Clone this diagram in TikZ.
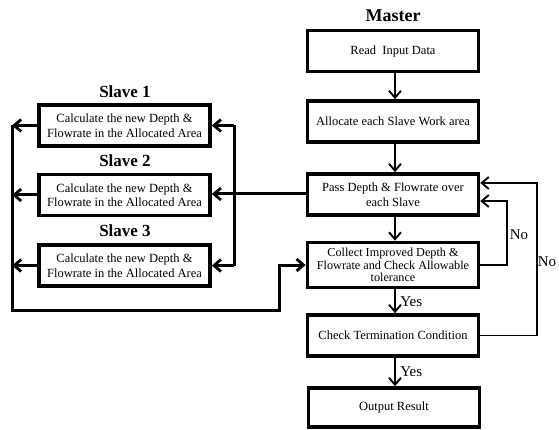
\documentclass[tikz,border=0pt]{standalone}
\usepackage{fontspec}
\setmainfont{Liberation Serif}
\usetikzlibrary{arrows.meta}
\begin{document}
\begin{tikzpicture}[x=1pt,y=-1pt,
  box/.style={draw,line width=3.6pt,minimum width=171pt,minimum height=41pt,align=center,inner sep=1pt,font=\fontsize{12.5}{14.5}\selectfont},
  thin/.style={line width=1.9pt,-{Straight Barb[length=7pt,width=12pt,line width=1.9pt]}},
  thk/.style={line width=3pt,-{Straight Barb[length=7pt,width=12pt,line width=2.8pt]}},
  title/.style={font=\fontsize{18}{20}\selectfont\bfseries},
  stitle/.style={font=\fontsize{17}{19}\selectfont\bfseries},
  lab/.style={font=\fontsize{15}{17}\selectfont}]
\useasboundingbox (0,0) rectangle (559,430);
% master column
\node[title] (mt) at (393,16) {Master};
\node[box] (read) at (393,51) {Read\ \ Input Data};
\node[box] (alloc) at (393,121.5) {Allocate each Slave Work area};
\node[box] (pass) at (393,194.5) {Pass Depth \& Flowrate over\\each Slave};
\node[box,minimum height=45pt,inner sep=0pt,font=\fontsize{12.2}{12.8}\selectfont] (coll) at (393,265) {Collect Improved Depth \&\\Flowrate and Check Allowable\\tolerance};
\node[box] (check) at (393,335.5) {Check Termination Condition};
\node[box,minimum height=39pt] (out) at (394,407.5) {Output Result};
% slaves
\node[stitle] (t1) at (125,92) {Slave 1};
\node[stitle] (t2) at (125,161) {Slave 2};
\node[stitle] (t3) at (125,231) {Slave 3};
\node[box] (s1) at (124.5,125.5) {Calculate the new Depth \&\\Flowrate in the Allocated Area};
\node[box] (s2) at (124.5,195) {Calculate the new Depth \&\\Flowrate in the Allocated Area};
\node[box] (s3) at (124.5,265.5) {Calculate the new Depth \&\\Flowrate in the Allocated Area};
% coordinates
\coordinate (rb1) at (234,125.5);
\coordinate (rb3) at (234,265.5);
\coordinate (lb1) at (12,125.5);
\coordinate (lb2) at (12,195);
\coordinate (lb3) at (12,265.5);
\coordinate (lbb) at (12,310);
\coordinate (bb) at (279,310);
\coordinate (bu) at (279,265);
\coordinate (r1a) at (507,265);
\coordinate (r1b) at (507,201);
\coordinate (r2a) at (537,335.5);
\coordinate (r2b) at (537,183);
% master vertical arrows
\draw[thin] (read.south -| 395,0) -- (alloc.north -| 395,0);
\draw[thin] (alloc.south -| 395,0) -- (pass.north -| 395,0);
\draw[thin] (pass.south -| 395,0) -- (coll.north -| 395,0);
\draw[thin] (coll.south -| 395,0) -- node[lab,right,xshift=1pt] {Yes} (check.north -| 395,0);
\draw[thin] (check.south -| 395,0) -- node[lab,right,xshift=1pt] {Yes} (out.north -| 395,0);
% pass to slave 2
\draw[thk] (pass.west |- 0,194) -- (s2.east |- 0,194);
% right slave bus
\draw[line width=3pt] (rb1) -- (rb3);
\draw[thk] (rb1) -- (s1.east);
\draw[thk] (rb3) -- (s3.east);
% left bus
\draw[thk] (s1.west) -- (lb1);
\draw[thk] (s2.west) -- (lb2);
\draw[thk] (s3.west) -- (lb3);
\draw[thk] (lb1) -- (lbb) -- (bb) -- (bu) -- (coll.west);
% feedback loops
\draw[thin] (coll.east) -- (r1a) -- (r1b) -- (pass.east |- r1b);
\draw[thin] (check.east) -- (r2a) -- (r2b) -- (pass.east |- r2b);
\node[lab] (no1) at (519,235) {No};
\node[lab] (no2) at (547,262) {No};
\end{tikzpicture}
\end{document}
